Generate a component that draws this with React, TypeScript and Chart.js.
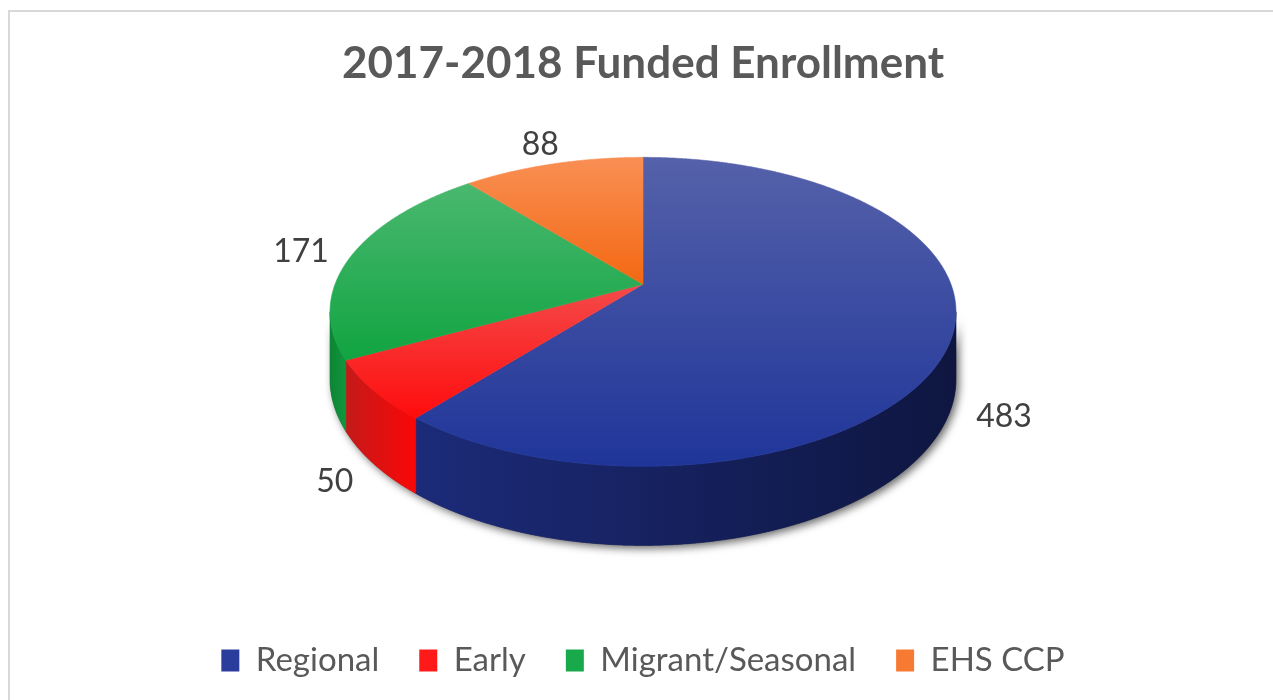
import React, { useEffect, useRef } from "react";
import { Chart, registerables } from "chart.js";

Chart.register(...registerables);

// ---- data ----
const categories = ["Regional", "Early", "Migrant/Seasonal", "EHS CCP"];
const enrollment = [483, 50, 171, 88];
const chartTitle = "2017-2018 Funded Enrollment";

// ---- styles ----
const baseColors = ["#2a3d9c", "#ff1a1a", "#18a94a", "#f67a32"];
const topLight = ["#5561a9", "#f44a4a", "#4ab86f", "#f98f54"];
const topDark = ["#1f3599", "#ff0c0c", "#11a442", "#f36812"];
const wallLeft = ["#1c2b79", "#c41a1a", "#0c8434", "#c0500e"];
const wallRight = ["#0e1640", "#fb0707", "#12973e", "#e0600e"];

const PIE_RADIUS = 313; // silhouette half-width in px
const PERSP = 0.178; // perspective strength
const TILT = 0.478; // vertical squash relative to radius
const DEPTH = 0.2077; // pie thickness relative to radius
const LABEL_F = 1.08;
const LABEL_FONT = 32;

function geometry(chart: any) {
  const meta = chart.getDatasetMeta(0);
  const arcs = meta.data as any[];
  if (!arcs.length) return null;
  const a0 = arcs[0];
  const R = a0.outerRadius;
  const K = PERSP;
  const s = R * Math.sqrt(1 - K * K);
  const t = R * TILT;
  const D = R * DEPTH;
  const cx = a0.x;
  const ay = a0.y - ((t + D) / (1 - K) - t / (1 + K)) / 2;
  const P = (th: number, f: number, z: number): [number, number, number] => {
    const u = f * Math.cos(th);
    const v = f * Math.sin(th);
    const den = 1 - K * v;
    return [cx + (s * u) / den, ay + (t * v + z) / den, den];
  };
  return { arcs, K, s, t, D, cx, ay, P };
}

const pie3d = {
  id: "pie3d",
  beforeDraw(chart: any) {
    const ctx = chart.ctx;
    ctx.save();
    ctx.strokeStyle = "#d9d9d9";
    ctx.lineWidth = 2;
    ctx.strokeRect(9, 11, chart.width + 40, chart.height + 40);
    ctx.restore();
  },
  beforeDatasetDraw() {
    return false;
  },
  beforeDatasetsDraw(chart: any) {
    const g = geometry(chart);
    if (!g) return;
    const { arcs, K, D, cx, ay, P } = g;
    const ctx = chart.ctx;
    const th1 = Math.asin(K);
    const th2 = Math.PI - th1;
    const step = 0.005;

    const arcPts = (a: number, b: number, z: number) => {
      const n = Math.max(2, Math.ceil(Math.abs(b - a) / step));
      const pts: [number, number][] = [];
      for (let j = 0; j <= n; j++) {
        const p = P(a + ((b - a) * j) / n, 1, z);
        pts.push([p[0], p[1]]);
      }
      return pts;
    };

    ctx.save();
    // shadow under the front wall
    {
      const top = arcPts(th1, th2, 0);
      const bot = arcPts(th2, th1, D);
      ctx.beginPath();
      [...top, ...bot].forEach(([x, y], i) => (i ? ctx.lineTo(x, y) : ctx.moveTo(x, y)));
      ctx.closePath();
      ctx.save();
      ctx.shadowColor = "rgba(0,0,0,0.6)";
      ctx.shadowBlur = 9;
      ctx.shadowOffsetX = 3;
      ctx.shadowOffsetY = 3;
      ctx.fillStyle = "#444";
      ctx.fill();
      ctx.restore();
    }

    // walls
    arcs.forEach((arc: any, i: number) => {
      const a = Math.max(arc.startAngle, th1);
      const b = Math.min(arc.endAngle, th2);
      if (b <= a) return;
      const top = arcPts(a, b, 0);
      const bot = arcPts(b, a, D);
      const all = [...top, ...bot];
      const xs = all.map((p) => p[0]);
      const minX = Math.min(...xs);
      const maxX = Math.max(...xs);
      const grad = ctx.createLinearGradient(minX, 0, maxX, 0);
      grad.addColorStop(0, wallLeft[i % wallLeft.length]);
      grad.addColorStop(1, wallRight[i % wallRight.length]);
      ctx.beginPath();
      all.forEach(([x, y], j) => (j ? ctx.lineTo(x, y) : ctx.moveTo(x, y)));
      ctx.closePath();
      ctx.fillStyle = grad;
      ctx.fill();
      ctx.strokeStyle = grad;
      ctx.lineWidth = 0.6;
      ctx.stroke();
    });

    // top faces
    arcs.forEach((arc: any, i: number) => {
      const pts = arcPts(arc.startAngle, arc.endAngle, 0);
      const ys = pts.map((p) => p[1]).concat([ay]);
      const minY = Math.min(...ys);
      const maxY = Math.max(...ys);
      const grad = ctx.createLinearGradient(0, minY, 0, maxY);
      grad.addColorStop(0, topLight[i % topLight.length]);
      grad.addColorStop(1, topDark[i % topDark.length]);
      ctx.beginPath();
      ctx.moveTo(cx, ay);
      pts.forEach(([x, y]) => ctx.lineTo(x, y));
      ctx.closePath();
      ctx.fillStyle = grad;
      ctx.fill();
      ctx.strokeStyle = grad;
      ctx.lineWidth = 0.6;
      ctx.stroke();
    });
    ctx.restore();
  },
  afterDatasetsDraw(chart: any) {
    const g = geometry(chart);
    if (!g) return;
    const { arcs, D, P } = g;
    const ctx = chart.ctx;
    const values = chart.data.datasets[0].data as number[];
    ctx.save();
    ctx.font = `${LABEL_FONT}px Lato, "Liberation Sans", sans-serif`;
    ctx.fillStyle = "#404040";
    ctx.textAlign = "center";
    ctx.textBaseline = "middle";
    arcs.forEach((arc: any, i: number) => {
      const mid = (arc.startAngle + arc.endAngle) / 2;
      const [px, py, den] = P(mid, LABEL_F, 0);
      const u = Math.cos(mid);
      const v = Math.sin(mid);
      const text = String(values[i]);
      const w = ctx.measureText(text).width;
      const h = LABEL_FONT * 0.72;
      const x = px + (u * w) / 2;
      const y = py + (v * h) / 2 + (v > 0 ? (D / den) * Math.min(1, v * 3) : 0);
      ctx.fillText(text, x, y);
    });
    ctx.restore();
  },
};

export default function App() {
  const ref = useRef<HTMLCanvasElement | null>(null);
  useEffect(() => {
    if (!ref.current) return;
    const chart = new Chart(ref.current, {
      type: "pie",
      data: {
        labels: categories,
        datasets: [
          {
            data: enrollment,
            backgroundColor: baseColors,
            borderWidth: 0,
            radius: PIE_RADIUS,
          } as any,
        ],
      },
      options: {
        responsive: false,
        animation: false,
        devicePixelRatio: 1,
        layout: { padding: { left: 13, right: 0, top: 0, bottom: 13 } },
        plugins: {
          title: {
            display: true,
            text: chartTitle,
            color: "#595959",
            font: { family: "Lato, 'Liberation Sans', sans-serif", size: 44, weight: "bold" },
            padding: { top: 37, bottom: 9 },
          },
          legend: {
            position: "bottom",
            labels: {
              color: "#595959",
              font: { family: "Lato, 'Liberation Sans', sans-serif", size: 33 },
              boxWidth: 18,
              boxHeight: 22,
              padding: 40,
            },
          },
          tooltip: { enabled: false },
        },
      } as any,
      plugins: [pie3d],
    });
    return () => chart.destroy();
  }, []);
  return (
    <div style={{ position: "absolute", left: 0, top: 0, width: 1273, height: 700, background: "#fff" }}>
      <canvas ref={ref} width={1273} height={700} style={{ display: "block" }} />
    </div>
  );
}
